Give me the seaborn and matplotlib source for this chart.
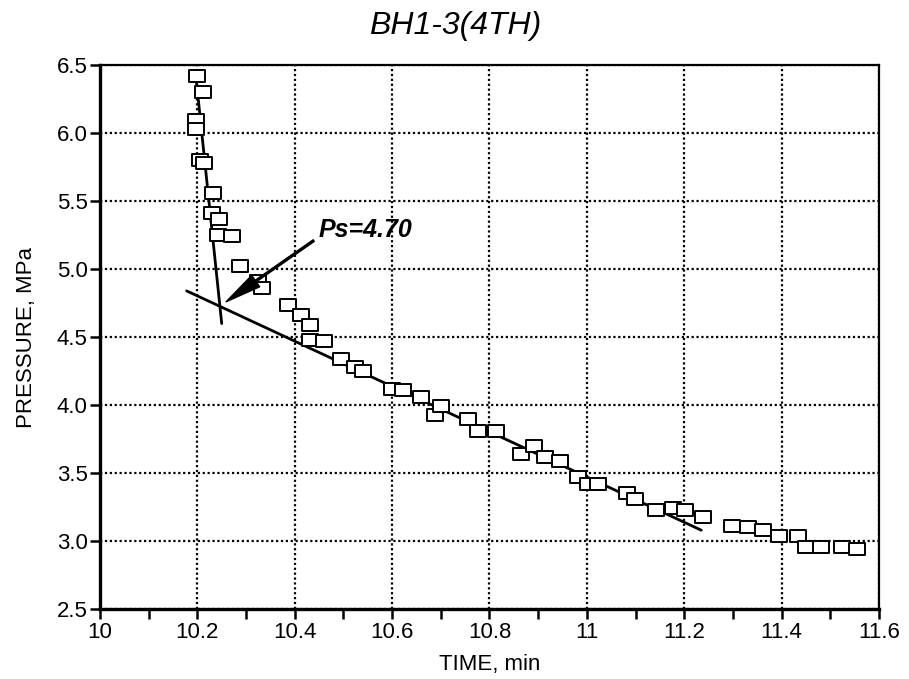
import numpy as np
import pandas as pd
import matplotlib
matplotlib.use("Agg")
import matplotlib.pyplot as plt
from matplotlib.path import Path
from matplotlib.ticker import MultipleLocator
import seaborn as sns

# ---- data ----
time_min = [10.199, 10.212, 10.197, 10.197, 10.205, 10.213, 10.233, 10.230, 10.245, 10.243,
            10.271, 10.287, 10.325, 10.333, 10.386, 10.413, 10.431, 10.432, 10.460, 10.496,
            10.523, 10.540, 10.599, 10.622, 10.659, 10.688, 10.700, 10.755, 10.776, 10.813,
            10.864, 10.891, 10.915, 10.944, 10.982, 11.003, 11.022, 11.082, 11.099, 11.141,
            11.176, 11.201, 11.238, 11.298, 11.330, 11.362, 11.395, 11.433, 11.451, 11.481,
            11.525, 11.554]
pressure = [6.42, 6.30, 6.10, 6.03, 5.80, 5.78, 5.56, 5.41, 5.37, 5.25,
            5.245, 5.02, 4.91, 4.86, 4.735, 4.66, 4.59, 4.48, 4.47, 4.34,
            4.28, 4.25, 4.12, 4.11, 4.06, 3.93, 3.99, 3.90, 3.81, 3.81,
            3.64, 3.70, 3.62, 3.59, 3.47, 3.42, 3.42, 3.35, 3.31, 3.23,
            3.24, 3.23, 3.18, 3.11, 3.10, 3.085, 3.04, 3.04, 2.96, 2.96,
            2.96, 2.94]

steep_line_x = [10.196, 10.250]
steep_line_p = [6.45, 4.60]
fit_line_x = [10.178, 11.235]
fit_line_p = [4.84, 3.08]

title = "BH1-3(4TH)"
xlabel = "TIME, min"
ylabel = "PRESSURE, MPa"
annot_text = "Ps=4.70"
annot_tip = (10.259, 4.76)
annot_tail = (10.439, 5.21)
annot_text_pos = (10.448, 5.29)
x_ticks = [10, 10.2, 10.4, 10.6, 10.8, 11, 11.2, 11.4, 11.6]
x_tick_labels = ["10", "10.2", "10.4", "10.6", "10.8", "11", "11.2", "11.4", "11.6"]
y_ticks = [2.5, 3.0, 3.5, 4.0, 4.5, 5.0, 5.5, 6.0, 6.5]

df = pd.DataFrame({"time": time_min, "pressure": pressure})

sns.set_theme(style="white", rc={"text.color": "black", "axes.labelcolor": "black",
                                 "xtick.color": "black", "ytick.color": "black"})
plt.rcParams['font.family'] = ['Liberation Sans', 'DejaVu Sans']

fig = plt.figure(figsize=(9.09, 6.79), dpi=100)
ax = fig.add_axes([0.110, 0.103, 0.857, 0.801])

rect = Path([(-1.0, -0.8), (1.0, -0.8), (1.0, 0.8), (-1.0, 0.8), (-1.0, -0.8)],
            [Path.MOVETO, Path.LINETO, Path.LINETO, Path.LINETO, Path.CLOSEPOLY])

ax.plot(steep_line_x, steep_line_p, color="black", lw=2.0, zorder=3)
ax.plot(fit_line_x, fit_line_p, color="black", lw=2.0, zorder=3)

sns.scatterplot(data=df, x="time", y="pressure", ax=ax, marker=rect, s=130,
                facecolor="white", edgecolor="black", linewidth=1.4, zorder=4,
                legend=False)

ax.annotate("", xy=annot_tip, xytext=annot_tail,
            arrowprops=dict(facecolor="black", edgecolor="black", width=1.4,
                            headwidth=10, headlength=26, shrink=0.0), zorder=5)
ax.text(annot_text_pos[0], annot_text_pos[1], annot_text, fontsize=18,
        fontstyle="italic", fontweight="bold", ha="left", va="center", color="black")

ax.set_xlim(10, 11.6)
ax.set_ylim(2.5, 6.5)
ax.set_xticks(x_ticks)
ax.set_xticklabels(x_tick_labels)
ax.set_yticks(y_ticks)
ax.set_yticklabels([f"{v:.1f}" for v in y_ticks])
ax.xaxis.set_minor_locator(MultipleLocator(0.1))

ax.grid(True, which="major", color="black", linestyle=(0, (1.0, 1.2)), linewidth=1.6)
ax.set_axisbelow(True)

for side in ["left", "bottom"]:
    ax.spines[side].set_linewidth(2.4)
for side in ["top", "right"]:
    ax.spines[side].set_linewidth(1.6)
for sp in ax.spines.values():
    sp.set_color("black")

ax.tick_params(axis="both", which="major", direction="out", length=7, width=1.8,
               labelsize=16, colors="black", bottom=True, left=True, pad=2)
ax.tick_params(axis="x", which="minor", direction="out", length=7, width=1.8, bottom=True)

ax.set_xlabel(xlabel, fontsize=16, labelpad=8, color="black")
ax.set_ylabel(ylabel, fontsize=16, labelpad=14, color="black")
fig.text(455 / 909, 1 - 26 / 679, title, fontsize=23, fontstyle="italic",
         ha="center", va="center", color="black")

fig.savefig("out.png", dpi=100)
